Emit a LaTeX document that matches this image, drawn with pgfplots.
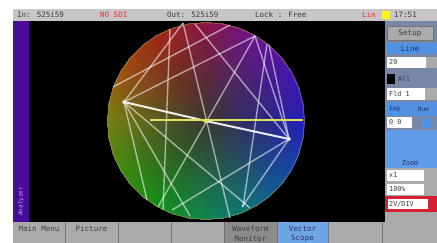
\documentclass[border=0pt]{standalone}
\usepackage{pgfplots}
\pgfplotsset{compat=1.18}
\usepackage{fontspec}
\setmainfont{DejaVu Sans Mono}
\definecolor{hc}{RGB}{58,56,50}
\definecolor{h0}{RGB}{35,30,185}
\definecolor{h30}{RGB}{70,20,175}
\definecolor{h60}{RGB}{105,20,145}
\definecolor{h90}{RGB}{140,20,70}
\definecolor{h120}{RGB}{160,40,20}
\definecolor{h150}{RGB}{160,80,15}
\definecolor{h180}{RGB}{120,130,15}
\definecolor{h210}{RGB}{60,140,15}
\definecolor{h240}{RGB}{20,145,25}
\definecolor{h270}{RGB}{15,135,80}
\definecolor{h300}{RGB}{15,110,130}
\definecolor{h330}{RGB}{20,70,170}
\colorlet{c0}{h0}\colorlet{c10}{h0!67!h30}\colorlet{c20}{h0!33!h30}
\colorlet{c30}{h30}\colorlet{c40}{h30!67!h60}\colorlet{c50}{h30!33!h60}
\colorlet{c60}{h60}\colorlet{c70}{h60!67!h90}\colorlet{c80}{h60!33!h90}
\colorlet{c90}{h90}\colorlet{c100}{h90!67!h120}\colorlet{c110}{h90!33!h120}
\colorlet{c120}{h120}\colorlet{c130}{h120!67!h150}\colorlet{c140}{h120!33!h150}
\colorlet{c150}{h150}\colorlet{c160}{h150!67!h180}\colorlet{c170}{h150!33!h180}
\colorlet{c180}{h180}\colorlet{c190}{h180!67!h210}\colorlet{c200}{h180!33!h210}
\colorlet{c210}{h210}\colorlet{c220}{h210!67!h240}\colorlet{c230}{h210!33!h240}
\colorlet{c240}{h240}\colorlet{c250}{h240!67!h270}\colorlet{c260}{h240!33!h270}
\colorlet{c270}{h270}\colorlet{c280}{h270!67!h300}\colorlet{c290}{h270!33!h300}
\colorlet{c300}{h300}\colorlet{c310}{h300!67!h330}\colorlet{c320}{h300!33!h330}
\colorlet{c330}{h330}\colorlet{c340}{h330!67!h0}\colorlet{c350}{h330!33!h0}
\definecolor{bargray}{RGB}{198,198,198}
\definecolor{btngray}{RGB}{170,170,170}
\definecolor{btndark}{RGB}{140,140,140}
\definecolor{sepgray}{RGB}{115,115,115}
\definecolor{btnblue}{RGB}{110,165,230}
\definecolor{txt}{RGB}{60,60,60}
\definecolor{navy}{RGB}{35,50,100}
\definecolor{purp}{RGB}{72,12,150}
\definecolor{slate}{RGB}{120,135,165}
\definecolor{bandblue}{RGB}{80,145,225}
\definecolor{lblue}{RGB}{95,155,230}
\definecolor{redf}{RGB}{215,30,50}
\definecolor{rimc}{RGB}{170,150,60}
\definecolor{yel}{RGB}{225,225,95}
\tikzset{u/.style={font=\fontsize{7.5}{8}\selectfont,inner sep=0pt},
  us/.style={font=\fontsize{6.8}{7}\selectfont,inner sep=0pt}}
\begin{document}
\begin{tikzpicture}
\begin{axis}[width=437pt,height=243pt,scale only axis,
  xmin=0,xmax=437,ymin=0,ymax=243,y dir=reverse,hide axis,clip=false]
% screen backgrounds
\fill[white] (axis cs:0,0) rectangle (axis cs:437,243);
\fill[bargray] (axis cs:13,9) rectangle (axis cs:437,21);
\fill[purp] (axis cs:13,21) rectangle (axis cs:29,222);
\fill[black] (axis cs:29,21) rectangle (axis cs:385,222);
% colour wheel
\addplot[patch,shader=interp,mesh/color input=explicit,point meta=explicit symbolic]
table[meta=c]{
x y c
206 121 color=hc
304.5 121 color=c0
303.0 103.9 color=c10
206 121 color=hc
303.0 103.9 color=c10
298.6 87.3 color=c20
206 121 color=hc
298.6 87.3 color=c20
291.3 71.75 color=c30
206 121 color=hc
291.3 71.75 color=c30
281.5 57.7 color=c40
206 121 color=hc
281.5 57.7 color=c40
269.3 45.5 color=c50
206 121 color=hc
269.3 45.5 color=c50
255.25 35.7 color=c60
206 121 color=hc
255.25 35.7 color=c60
239.7 28.4 color=c70
206 121 color=hc
239.7 28.4 color=c70
223.1 24.0 color=c80
206 121 color=hc
223.1 24.0 color=c80
206 22.5 color=c90
206 121 color=hc
206 22.5 color=c90
188.9 24.0 color=c100
206 121 color=hc
188.9 24.0 color=c100
172.3 28.4 color=c110
206 121 color=hc
172.3 28.4 color=c110
156.75 35.7 color=c120
206 121 color=hc
156.75 35.7 color=c120
142.7 45.5 color=c130
206 121 color=hc
142.7 45.5 color=c130
130.55 57.7 color=c140
206 121 color=hc
130.55 57.7 color=c140
120.7 71.75 color=c150
206 121 color=hc
120.7 71.75 color=c150
113.4 87.3 color=c160
206 121 color=hc
113.4 87.3 color=c160
109.0 103.9 color=c170
206 121 color=hc
109.0 103.9 color=c170
107.5 121 color=c180
206 121 color=hc
107.5 121 color=c180
109.0 138.1 color=c190
206 121 color=hc
109.0 138.1 color=c190
113.4 154.7 color=c200
206 121 color=hc
113.4 154.7 color=c200
120.7 170.25 color=c210
206 121 color=hc
120.7 170.25 color=c210
130.55 184.3 color=c220
206 121 color=hc
130.55 184.3 color=c220
142.7 196.5 color=c230
206 121 color=hc
142.7 196.5 color=c230
156.75 206.3 color=c240
206 121 color=hc
156.75 206.3 color=c240
172.3 213.6 color=c250
206 121 color=hc
172.3 213.6 color=c250
188.9 218.0 color=c260
206 121 color=hc
188.9 218.0 color=c260
206 219.5 color=c270
206 121 color=hc
206 219.5 color=c270
223.1 218.0 color=c280
206 121 color=hc
223.1 218.0 color=c280
239.7 213.6 color=c290
206 121 color=hc
239.7 213.6 color=c290
255.25 206.3 color=c300
206 121 color=hc
255.25 206.3 color=c300
269.3 196.5 color=c310
206 121 color=hc
269.3 196.5 color=c310
281.5 184.3 color=c320
206 121 color=hc
281.5 184.3 color=c320
291.3 170.25 color=c330
206 121 color=hc
291.3 170.25 color=c330
298.6 154.7 color=c340
206 121 color=hc
298.6 154.7 color=c340
303.0 138.1 color=c350
206 121 color=hc
303.0 138.1 color=c350
304.5 121 color=c0
};
% rim
\addplot[draw=rimc,opacity=0.55,line width=0.9pt,mark=none] coordinates {
(304.5,121)(303.0,103.9)(298.6,87.3)(291.3,71.75)(281.5,57.7)(269.3,45.5)
(255.25,35.7)(239.7,28.4)(223.1,24.0)(206,22.5)(188.9,24.0)(172.3,28.4)
(156.75,35.7)(142.7,45.5)(130.55,57.7)(120.7,71.75)(113.4,87.3)(109.0,103.9)
(107.5,121)(109.0,138.1)(113.4,154.7)(120.7,170.25)(130.55,184.3)(142.7,196.5)
(156.75,206.3)(172.3,213.6)(188.9,218.0)(206,219.5)(223.1,218.0)(239.7,213.6)
(255.25,206.3)(269.3,196.5)(281.5,184.3)(291.3,170.25)(298.6,154.7)(303.0,138.1)(304.5,121)};
% trace lines
\pgfplotsset{trace/.style={white,opacity=0.55,line width=1.4pt,mark=none}}
\addplot[trace] coordinates {(183,23)(230,218)};
\addplot[trace] coordinates {(255,36)(158,207)};
\addplot[trace] coordinates {(124,102)(255,36)};
\addplot[trace] coordinates {(124,102)(183,23)};
\addplot[trace] coordinates {(124,102)(147,200)};
\addplot[trace] coordinates {(124,102)(190,216)};
\addplot[trace] coordinates {(124,102)(250,208)};
\addplot[trace] coordinates {(289,139)(255,36)};
\addplot[trace] coordinates {(289,139)(269,45)};
\addplot[trace] coordinates {(289,139)(242,207)};
\addplot[trace] coordinates {(289,139)(172,210)};
\addplot[trace] coordinates {(195,24)(289,139)};
\addplot[trace] coordinates {(267,44)(243,207)};
\addplot[trace] coordinates {(170,29)(163,210)};
\addplot[trace] coordinates {(113,87)(230,25)};
\addplot[white,opacity=0.9,line width=2pt,mark=none] coordinates {(124,102)(206,121)(289,139)};
\addplot[yel,line width=1.4pt,mark=none] coordinates {(150,120)(303,120)};
\addplot[only marks,mark=*,mark size=1.7pt,white] coordinates {(124,102)(289,139)};
\addplot[only marks,mark=*,mark size=2pt,yel] coordinates {(206,121)};
% top bar text
\node[u,anchor=west,text=txt] at (axis cs:17,15) {In: 525i59};
\node[u,anchor=west,text=red!85!white] at (axis cs:100,15) {NO SDI};
\node[u,anchor=west,text=txt] at (axis cs:167,15) {Out: 525i59};
\node[u,anchor=west,text=txt] at (axis cs:255,15) {Lock : Free};
\node[u,anchor=west,text=red!85!white] at (axis cs:362,15) {Lin};
\fill[yellow!90!white] (axis cs:382,11) rectangle (axis cs:390,19);
\node[u,anchor=west,text=txt] at (axis cs:394,15) {17:51};
% purple strip
\node[rotate=90,anchor=west,inner sep=0pt,text={rgb,255:red,190;green,165;blue,245},font=\fontsize{6}{7}\selectfont] at (axis cs:21,216) {Analyzer};
% right panel
\fill[slate] (axis cs:385,21) rectangle (axis cs:437,222);
\fill[btngray] (axis cs:387,26) rectangle (axis cs:433,40);
\draw[sepgray] (axis cs:387,26) rectangle (axis cs:433,40);
\node[u,text=txt] at (axis cs:410,33) {Setup};
\fill[bandblue] (axis cs:385,43) rectangle (axis cs:437,54);
\node[u,text=navy] at (axis cs:410,48.5) {Line};
\fill[white] (axis cs:387,57) rectangle (axis cs:426,68);
\fill[btngray] (axis cs:426,57) rectangle (axis cs:437,68);
\node[us,anchor=west,text=txt] at (axis cs:389,62.5) {20};
\fill[black] (axis cs:387,74) rectangle (axis cs:395,84);
\node[us,anchor=west,text=navy] at (axis cs:398,79) {All};
\fill[white] (axis cs:387,88) rectangle (axis cs:425,100);
\fill[btngray] (axis cs:425,88) rectangle (axis cs:437,100);
\node[us,anchor=west,text=txt] at (axis cs:389,94) {Fld 1};
\fill[bandblue] (axis cs:385,102) rectangle (axis cs:437,116);
\node[anchor=west,inner sep=0pt,text=navy,font=\fontsize{6}{7}\selectfont] at (axis cs:389,109) {Seg};
\node[anchor=west,inner sep=0pt,text=navy,font=\fontsize{6}{7}\selectfont] at (axis cs:418,109) {Num};
\fill[white] (axis cs:387,117) rectangle (axis cs:412,128);
\node[us,anchor=west,text=txt] at (axis cs:389,122.5) {0 0};
\fill[bandblue] (axis cs:420,117) rectangle (axis cs:432,128);
\draw[navy!60] (axis cs:420,117) rectangle (axis cs:432,128);
\fill[lblue] (axis cs:385,130) rectangle (axis cs:437,168);
\node[us,text=navy] at (axis cs:410,163) {Zoom};
\fill[btngray] (axis cs:385,168) rectangle (axis cs:437,222);
\fill[white] (axis cs:387,170) rectangle (axis cs:424,181);
\node[us,anchor=west,text=txt] at (axis cs:389,175.5) {x1};
\fill[white] (axis cs:387,184) rectangle (axis cs:424,195);
\node[us,anchor=west,text=txt] at (axis cs:389,189.5) {100\%};
\fill[redf] (axis cs:385,196) rectangle (axis cs:437,212);
\fill[white] (axis cs:388,199) rectangle (axis cs:428,209);
\node[us,anchor=west,text=txt] at (axis cs:389,204) {2V/DIV};
% bottom bar
\fill[btngray] (axis cs:13,222) rectangle (axis cs:437,243);
\fill[btndark] (axis cs:224,222) rectangle (axis cs:277,243);
\fill[btnblue] (axis cs:277,222) rectangle (axis cs:328,243);
\draw[sepgray,line width=0.8pt] (axis cs:65,222) -- (axis cs:65,243);
\draw[sepgray,line width=0.8pt] (axis cs:118,222) -- (axis cs:118,243);
\draw[sepgray,line width=0.8pt] (axis cs:171,222) -- (axis cs:171,243);
\draw[sepgray,line width=0.8pt] (axis cs:224,222) -- (axis cs:224,243);
\draw[sepgray,line width=0.8pt] (axis cs:277,222) -- (axis cs:277,243);
\draw[sepgray,line width=0.8pt] (axis cs:328,222) -- (axis cs:328,243);
\draw[sepgray,line width=0.8pt] (axis cs:382,222) -- (axis cs:382,243);
\node[u,text=txt] at (axis cs:39,228.5) {Main Menu};
\node[u,text=txt] at (axis cs:91.5,228.5) {Picture};
\node[u,text=txt] at (axis cs:250.5,228.5) {Waveform};
\node[u,text=txt] at (axis cs:250.5,238.5) {Monitor};
\node[u,text=navy] at (axis cs:302.5,228.5) {Vector};
\node[u,text=navy] at (axis cs:302.5,238.5) {Scope};
\end{axis}
\pgfresetboundingbox
\path (current axis.south west) rectangle (current axis.north east);
\end{tikzpicture}
\end{document}
